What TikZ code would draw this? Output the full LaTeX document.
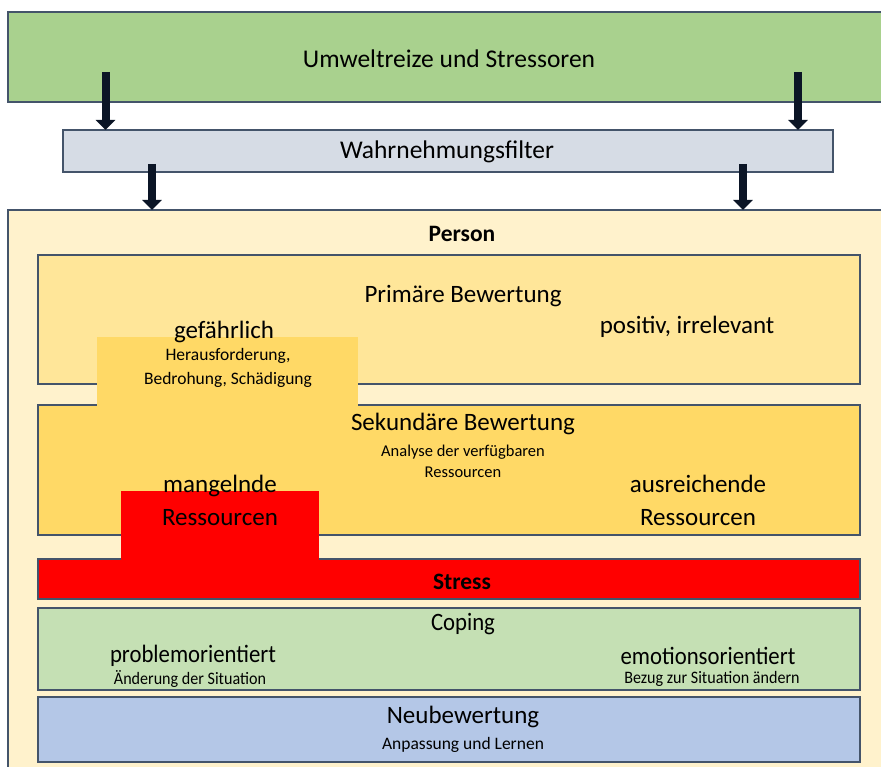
\documentclass[tikz,border=0pt]{standalone}
\usepackage{fontspec}
\setmainfont{Carlito}
\usetikzlibrary{arrows.meta}
\definecolor{cTop}{HTML}{A9D18E}
\definecolor{cFilter}{HTML}{D6DCE5}
\definecolor{cPerson}{HTML}{FFF2CC}
\definecolor{cPrim}{HTML}{FFE699}
\definecolor{cSek}{HTML}{FFD966}
\definecolor{cRed}{HTML}{FF0000}
\definecolor{cCope}{HTML}{C5E0B4}
\definecolor{cNeu}{HTML}{B4C7E7}
\definecolor{cBorder}{HTML}{44546A}
\definecolor{cArrow}{HTML}{0B1526}
\tikzset{
  box/.style={draw=cBorder, line width=1.3pt, anchor=north west, inner sep=0pt, outer sep=0pt},
  plain/.style={anchor=north west, inner sep=0pt, outer sep=0pt},
  big/.style={font=\fontsize{25.5}{30}\selectfont, inner sep=0pt},
  mid/.style={font=\fontsize{25}{30}\selectfont, inner sep=0pt, align=center},
  bold/.style={font=\bfseries\fontsize{23.5}{28}\selectfont, inner sep=0pt},
  small/.style={font=\fontsize{17.5}{24}\selectfont, inner sep=0pt, align=center},
  arr/.style={draw=cArrow, line width=8pt, -{Triangle[width=19pt,length=10pt]}}
}
\begin{document}
\begin{tikzpicture}[x=1pt,y=-1pt]
\useasboundingbox (0,0) rectangle (881,767);
\clip (0,0) rectangle (881,767);
% boxes
\node[box, fill=cTop, minimum width=885, minimum height=90] (top) at (8,12) {};
\node[box, fill=cFilter, minimum width=770, minimum height=42] (filter) at (63,130) {};
\node[box, fill=cPerson, minimum width=885, minimum height=570] (person) at (8,210) {};
\node[box, fill=cPrim, minimum width=822, minimum height=129] (prim) at (38,255) {};
\node[box, fill=cSek, minimum width=822, minimum height=130] (sek) at (38,405) {};
\node[plain, fill=cSek, minimum width=261, minimum height=74] (gef) at (97,337) {};
\node[box, fill=cRed, minimum width=822, minimum height=40] (stress) at (38,559) {};
\node[plain, fill=cRed, minimum width=198, minimum height=69] (mang) at (121,491) {};
\node[box, fill=cCope, minimum width=822, minimum height=82] (cope) at (38,608) {};
\node[box, fill=cNeu, minimum width=822, minimum height=65] (neu) at (38,697) {};
% arrows
\coordinate (a1) at (105.5,72);
\coordinate (a2) at (798,72);
\coordinate (b1) at (152,164);
\coordinate (b2) at (743,164);
\draw[arr] (a1) -- (a1 |- filter.north);
\draw[arr] (a2) -- (a2 |- filter.north);
\draw[arr] (b1) -- (b1 |- person.north);
\draw[arr] (b2) -- (b2 |- person.north);
% texts
\node[big] (t1) at (449,59) {Umweltreize und Stressoren};
\node[big] (t2) at (447,152) {Wahrnehmungsfilter};
\node[bold] (t3) at (462,234) {Person};
\node[mid] (t4) at (463,296) {Primäre Bewertung};
\node[mid] (t5) at (687,327) {positiv, irrelevant};
\node[mid] (t6) at (224,332) {gefährlich};
\node[small] (t7) at (228,368) {Herausforderung,\\Bedrohung, Schädigung};
\node[mid] (t8) at (463,424) {Sekundäre Bewertung};
\node[small, font=\fontsize{16.5}{21}\selectfont] (t9) at (463,461) {Analyse der verfügbaren\\Ressourcen};
\node[mid, font=\fontsize{25}{33}\selectfont] (t10) at (220,500) {mangelnde\\Ressourcen};
\node[mid, font=\fontsize{25}{33}\selectfont] (t11) at (698,500) {ausreichende\\Ressourcen};
\node[bold] (t12) at (462,582) {Stress};
\node[mid, xscale=0.91] (t13) at (463,624) {Coping};
\node[mid, xscale=0.91] (t14) at (193,656) {problemorientiert};
\node[small, xscale=0.92] (t15) at (190,679) {Änderung der Situation};
\node[mid, xscale=0.91] (t16) at (708,656) {emotionsorientiert};
\node[small, xscale=0.92] (t17) at (712,679) {Bezug zur Situation ändern};
\node[mid] (t18) at (463,717) {Neubewertung};
\node[small] (t19) at (463,745) {Anpassung und Lernen};
\end{tikzpicture}
\end{document}
